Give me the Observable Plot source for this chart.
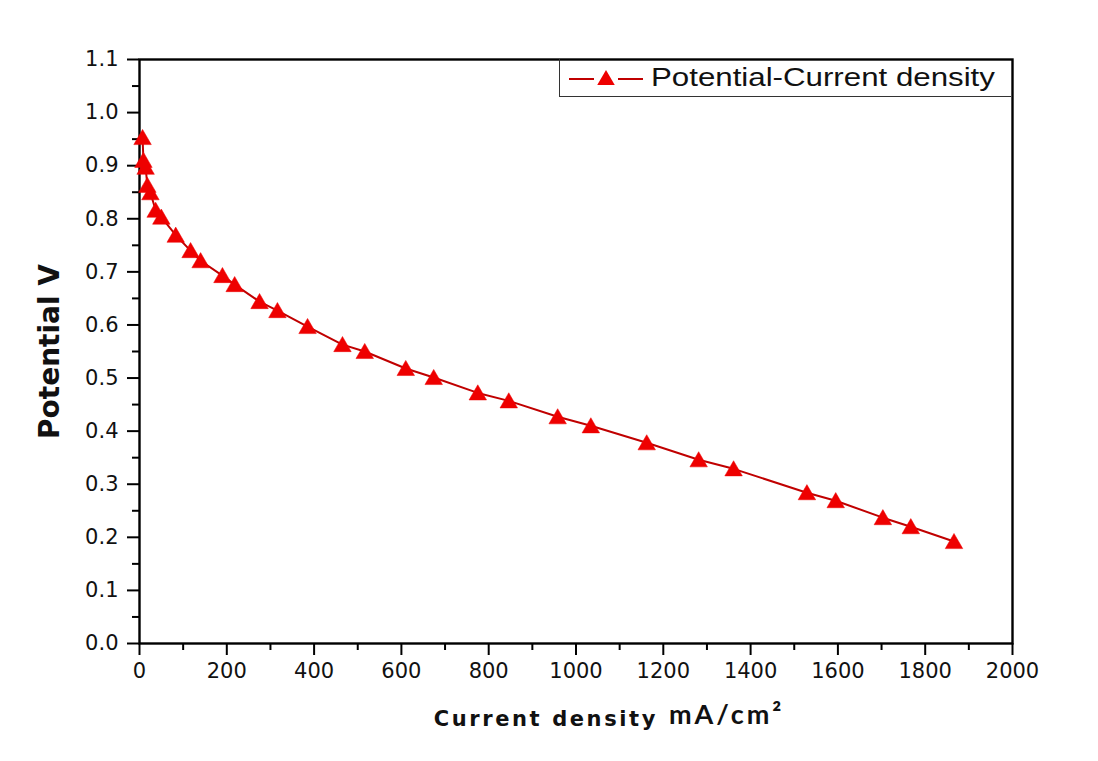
<!DOCTYPE html>
<html>
<head>
<meta charset="utf-8">
<script src="https://cdn.jsdelivr.net/npm/d3@7"></script>
<script src="https://cdn.jsdelivr.net/npm/@observablehq/plot@0.6"></script>
<style>
  html, body { margin: 0; padding: 0; background: #fff; }
  #wrap { position: relative; width: 1098px; height: 761px; }
  #legend {
    position: absolute; left: 559px; top: 59px; width: 452px; height: 38px;
    border-left: 1.5px solid #333; border-bottom: 1.5px solid #333; box-sizing: border-box;
    font-family: "Liberation Sans", Arial, sans-serif; color: #111;
  }
  #legend svg { position: absolute; left: 8px; top: 8px; }
  #legend span {
    position: absolute; left: 91px; top: 3px; font-size: 25px; line-height: 30px;
    display: inline-block; transform: scaleX(1.25); transform-origin: left center; white-space: nowrap;
  }
</style>
</head>
<body>
<div id="wrap">
  <div id="chart"></div>
  <div id="legend"></div>
</div>
<script>
// Current density (mA/cm^2)
const currentDensity = [7, 9, 14, 18, 25, 37, 50, 83, 117, 140, 190, 218, 275, 316, 385, 465, 516, 610, 674, 775, 846, 958, 1034, 1162, 1281, 1361, 1529, 1595, 1703, 1767, 1866];
// Potential (V)
const potential = [0.953, 0.91, 0.897, 0.863, 0.849, 0.816, 0.803, 0.769, 0.740, 0.721, 0.693, 0.676, 0.644, 0.627, 0.597, 0.563, 0.550, 0.518, 0.501, 0.472, 0.457, 0.427, 0.410, 0.378, 0.346, 0.329, 0.284, 0.269, 0.237, 0.220, 0.192];

const yMajor = [0, 0.1, 0.2, 0.3, 0.4, 0.5, 0.6, 0.7, 0.8, 0.9, 1.0, 1.1];
const yMinor = [0.05, 0.15, 0.25, 0.35, 0.45, 0.55, 0.65, 0.75, 0.85, 0.95, 1.05];
const xMajor = [0, 200, 400, 600, 800, 1000, 1200, 1400, 1600, 1800, 2000];
const xMinor = [100, 300, 500, 700, 900, 1100, 1300, 1500, 1700, 1900];

const seriesName = "Potential-Current density";
const xTitle = "Current density";
const xUnit = "mA/cm²";
const yTitle = "Potential V";

const data = currentDensity.map((x, i) => ({x, y: potential[i]}));

const lineColor = "#c00000";
const markerColor = "#ee0000";
const tickFont = "'DejaVu Sans', sans-serif";

const chart = Plot.plot({
  width: 1098,
  height: 761,
  marginLeft: 139,
  marginRight: 86,
  marginTop: 59,
  marginBottom: 118,
  style: {fontFamily: "'Liberation Sans', Arial, sans-serif", color: "#000", background: "transparent"},
  x: {domain: [0, 2000]},
  y: {domain: [0, 1.1]},
  marks: [
    Plot.axisY({ticks: yMajor, tickSize: 12, tickPadding: 9, tickFormat: d3.format(".1f"), fontSize: 21, fontFamily: tickFont, fill: "#111", stroke: "#000", strokeWidth: 2, label: null}),
    Plot.axisY({ticks: yMinor, tickSize: 7, text: null, stroke: "#000", strokeWidth: 2, label: null}),
    Plot.axisX({ticks: xMajor, tickSize: 12, tickPadding: 8, tickFormat: d => String(d), fontSize: 21, fontFamily: tickFont, fill: "#111", stroke: "#000", strokeWidth: 2, label: null}),
    Plot.axisX({ticks: xMinor, tickSize: 7, text: null, stroke: "#000", strokeWidth: 2, label: null}),
    Plot.frame({stroke: "#000", strokeWidth: 2.4}),
    Plot.line(data, {x: "x", y: "y", stroke: lineColor, strokeWidth: 2}),
    Plot.dot(data, {x: "x", y: "y", symbol: "triangle", r: 6.5, fill: markerColor, stroke: markerColor, strokeWidth: 0.5, dy: 2}),
    Plot.text([yTitle], {frameAnchor: "left", textAnchor: "middle", rotate: -90, dx: -89, fontSize: 28, fontWeight: "bold", fontFamily: "'DejaVu Sans', sans-serif", fill: "#111", text: d => d}),
    Plot.text([xTitle], {frameAnchor: "bottom", textAnchor: "end", dx: 82, dy: 82, fontSize: 21, fontWeight: "bold", fontFamily: "'DejaVu Sans', sans-serif", fill: "#111", text: d => d}),
    Plot.text([xUnit], {frameAnchor: "bottom", textAnchor: "start", dx: 93, dy: 80, fontSize: 27, fontWeight: "bold", fontFamily: "Lato, 'Open Sans', sans-serif", fill: "#111", text: d => d})
  ]
});

d3.select(chart).selectAll("text").filter(function() { return this.textContent === xTitle; })
  .style("letter-spacing", "2.6px");
d3.select(chart).selectAll("text").filter(function() { return this.textContent === xUnit; })
  .style("letter-spacing", "3px");

document.getElementById("chart").appendChild(chart);

// legend
const legend = document.getElementById("legend");
legend.innerHTML = `<svg width="76" height="22" viewBox="0 0 76 22">
  <line x1="1" y1="12" x2="26" y2="12" stroke="${lineColor}" stroke-width="2"/>
  <line x1="50" y1="12" x2="75" y2="12" stroke="${lineColor}" stroke-width="2"/>
  <path d="${d3.symbol(d3.symbolTriangle, Math.PI * 6.5 * 6.5)()}" transform="translate(38,13)" fill="${markerColor}"/>
</svg><span>${seriesName}</span>`;
</script>
</body>
</html>
